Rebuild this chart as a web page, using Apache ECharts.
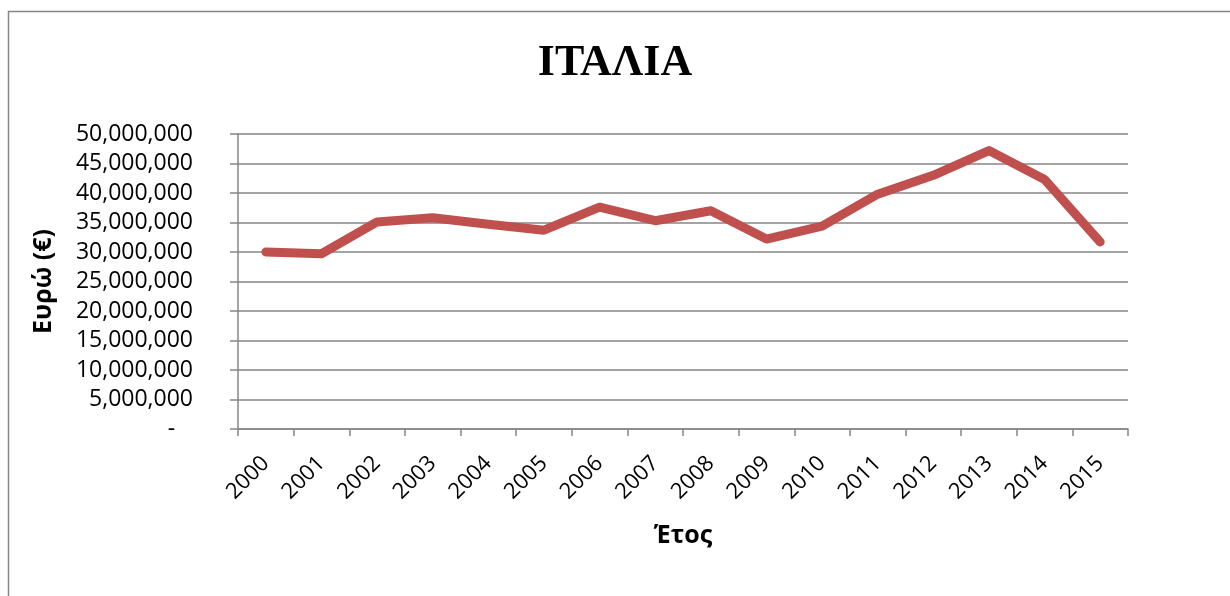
<!DOCTYPE html>
<html>
<head>
<meta charset="utf-8">
<script src="https://cdn.jsdelivr.net/npm/echarts@6/dist/echarts.min.js"></script>
<style>
html,body{margin:0;padding:0;background:#fff;}
#chart{width:1230px;height:596px;}
</style>
</head>
<body>
<div id="chart"></div>
<script>
const years = ['2000','2001','2002','2003','2004','2005','2006','2007','2008','2009','2010','2011','2012','2013','2014','2015'];
const euros = [30000000, 29700000, 35100000, 35800000, 34700000, 33700000, 37600000, 35300000, 37000000, 32200000, 34400000, 39800000, 43000000, 47200000, 42300000, 31700000];
const titleText = 'ΙΤΑΛΙΑ';
const yName = 'Ευρώ (€)';
const xName = 'Έτος';

const chart = echarts.init(document.getElementById('chart'), null, {renderer:'canvas'});
const axisGray = '#868686';
chart.setOption({
  backgroundColor: '#ffffff',
  animation: false,
  graphic: [{
    type: 'rect',
    shape: {x: 8.5, y: 11.5, width: 1400, height: 800},
    style: {fill: 'none', stroke: axisGray, lineWidth: 1.5},
    silent: true
  }],
  title: {
    text: titleText,
    left: 'center',
    top: 37,
    textStyle: {fontFamily: 'Liberation Serif', fontWeight: 'bold', fontSize: 44, color: '#000'}
  },
  grid: {left: 238, right: 102, top: 134, bottom: 167, containLabel: false},
  xAxis: {
    type: 'category',
    data: years,
    boundaryGap: true,
    name: xName,
    nameLocation: 'middle',
    nameGap: 94,
    nameTextStyle: {fontFamily: 'Open Sans', fontWeight: 'bold', fontSize: 25, color: '#000'},
    axisLine: {lineStyle: {color: axisGray, width: 1.5}},
    axisTick: {show: true, length: 7, lineStyle: {color: axisGray, width: 1.5}},
    axisLabel: {rotate: 45, margin: 31, fontFamily: 'Open Sans', fontSize: 22, color: '#000', interval: 0}
  },
  yAxis: {
    type: 'value',
    min: 0, max: 50000000, interval: 5000000,
    name: yName,
    nameLocation: 'middle',
    nameGap: 182,
    nameRotate: 90,
    nameTextStyle: {fontFamily: 'Open Sans', fontWeight: 'bold', fontSize: 25, color: '#000'},
    axisLine: {show: true, lineStyle: {color: axisGray, width: 1.5}},
    axisTick: {show: true, length: 8, lineStyle: {color: axisGray, width: 1.5}},
    splitLine: {show: true, lineStyle: {color: axisGray, width: 1.5}},
    axisLabel: {
      margin: 45,
      fontFamily: 'Open Sans', fontSize: 23, color: '#000',
      formatter: function (v) {
        if (v === 0) return '-\u00a0\u00a0\u00a0';
        return v.toLocaleString('en-US');
      }
    }
  },
  series: [{
    type: 'line',
    data: euros,
    showSymbol: false,
    symbol: 'none',
    smooth: false,
    lineStyle: {color: '#C0504D', width: 9, cap: 'round', join: 'round'},
    itemStyle: {color: '#C0504D'}
  }]
});
</script>
</body>
</html>
